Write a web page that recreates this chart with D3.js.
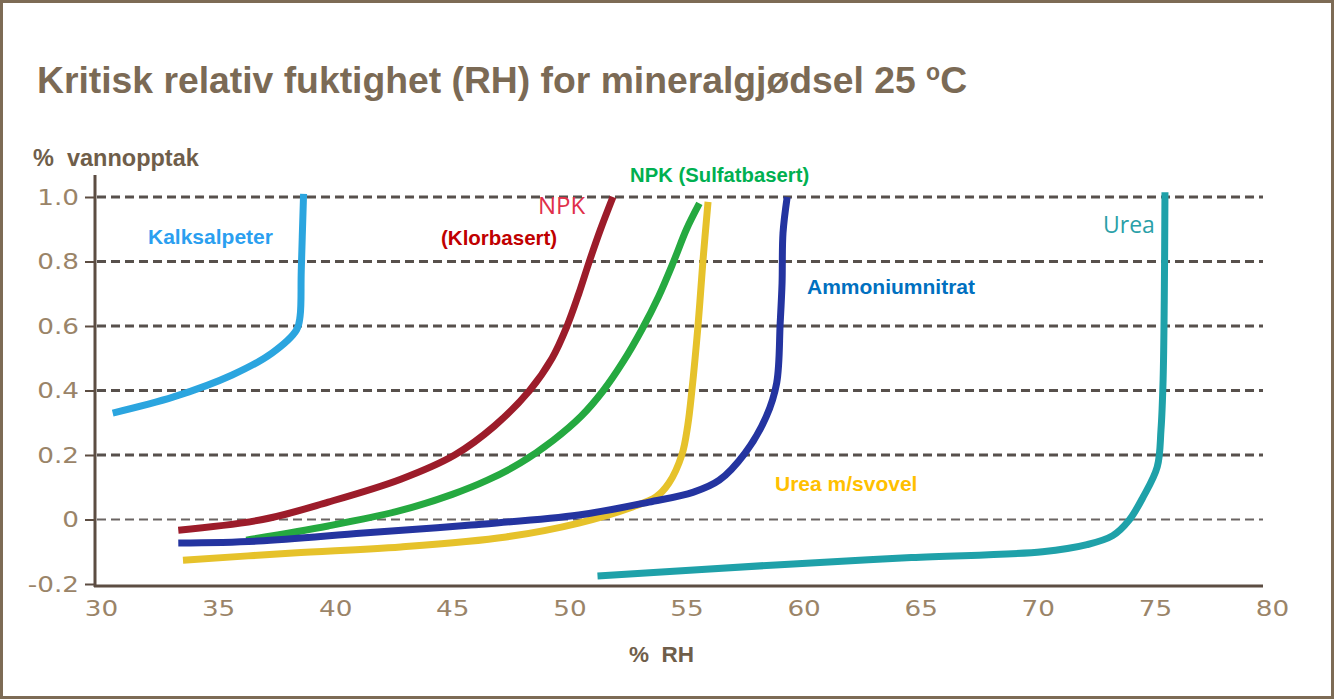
<!DOCTYPE html>
<meta charset="utf-8">
<body style="margin:0; background:#fff;">
<div id="chart"></div>
<script src="https://d3js.org/d3.v7.min.js"></script>
<script>
// tick values
const xTicks = [30, 35, 40, 45, 50, 55, 60, 65, 70, 75, 80];
const yTicks = [-0.2, 0, 0.2, 0.4, 0.6, 0.8, 1.0];
const yTickLabels = ["-0.2", "0", "0.2", "0.4", "0.6", "0.8", "1.0"];
const gridValues = [0, 0.2, 0.4, 0.6, 0.8, 1.0];

// curves: [% RH, % vannopptak]
const kalksalpeter = [[30.5, 0.33], [33.1, 0.38], [35.6, 0.448], [37.3, 0.516], [38.35, 0.588],
  [38.5, 0.63], [38.55, 0.77], [38.65, 1.01]];
const npkKlor = [[33.3, -0.033], [36.9, 0.0], [39.7, 0.054], [42.8, 0.125], [45.1, 0.2],
  [46.8, 0.29], [48.3, 0.4], [49.26, 0.5], [49.9, 0.6], [50.4, 0.7], [50.85, 0.8],
  [51.33, 0.9], [51.86, 1.0]];
const npkSulfat = [[36.2, -0.064], [39.7, -0.02], [42.8, 0.028], [45.0, 0.078], [46.5, 0.122],
  [47.9, 0.175], [49.3, 0.245], [50.5, 0.32], [51.45, 0.4], [52.3, 0.49], [53.1, 0.59],
  [53.8, 0.69], [54.45, 0.8], [55.0, 0.9], [55.55, 0.98]];
const ureaSvovel = [[33.5, -0.126], [38.2, -0.104], [42.8, -0.085], [47.3, -0.054], [50.4, -0.011],
  [52.7, 0.039], [53.7, 0.07], [54.25, 0.113], [54.8, 0.2], [55.05, 0.29], [55.23, 0.4],
  [55.49, 0.6], [55.7, 0.8], [55.92, 0.985]];
const ammoniumnitrat = [[33.3, -0.073], [36.7, -0.067], [41.2, -0.042], [45.8, -0.017], [50.4, 0.014],
  [53.4, 0.054], [55.3, 0.085], [56.4, 0.122], [57.5, 0.206], [58.4, 0.318], [58.85, 0.423],
  [59.0, 0.609], [59.08, 0.733], [59.12, 0.888], [59.3, 1.0]];
const urea = [[51.2, -0.175], [59.0, -0.14], [64.6, -0.118], [70.2, -0.1], [72.1, -0.078],
  [73.2, -0.05], [73.9, -0.002], [74.5, 0.07], [75.1, 0.163], [75.26, 0.278],
  [75.35, 0.433], [75.4, 0.68], [75.43, 1.015]];

const series = [
  {name: "Kalksalpeter", data: kalksalpeter, color: "#2ba5df"},
  {name: "NPK (Klorbasert)", data: npkKlor, color: "#9c1c2a"},
  {name: "NPK (Sulfatbasert)", data: npkSulfat, color: "#25a940"},
  {name: "Urea m/svovel", data: ureaSvovel, color: "#e6c22b"},
  {name: "Ammoniumnitrat", data: ammoniumnitrat, color: "#2434a0"},
  {name: "Urea", data: urea, color: "#1fa1a9"}
];

const width = 1334, height = 699;
const brown = "#7b6a55";
const stretch = 1.25; // tick digits in the picture are drawn wide

const svg = d3.select("#chart").append("svg")
  .attr("width", width)
  .attr("height", height)
  .style("display", "block");

svg.append("rect")
  .attr("x", 1.5).attr("y", 1.5)
  .attr("width", width - 3).attr("height", height - 3)
  .attr("fill", "#fff")
  .attr("stroke", "#7d6b55")
  .attr("stroke-width", 3);

const x = d3.scaleLinear().domain([30, 80]).range([101, 1272]);
const y = d3.scaleLinear().domain([-0.2, 1.0]).range([584, 197]);

// title
const title = svg.append("text")
  .attr("x", 37).attr("y", 93)
  .attr("fill", brown)
  .style("font-family", "Liberation Sans, Arial, sans-serif")
  .style("font-weight", "bold")
  .style("font-size", "37.3px")
  .text("Kritisk relativ fuktighet (RH) for mineralgjødsel 25 ");
title.append("tspan").attr("dy", -13).style("font-size", "23px").text("o");
title.append("tspan").attr("dy", 13).text("C");

// axis titles
svg.append("text")
  .attr("x", 33).attr("y", 166)
  .attr("fill", "#6f5e4a")
  .style("font-family", "Liberation Sans, Arial, sans-serif")
  .style("font-weight", "bold")
  .style("font-size", "23.5px")
  .style("white-space", "pre")
  .text("%  vannopptak");

svg.append("text")
  .attr("x", 629).attr("y", 662)
  .attr("fill", "#6f5e4a")
  .style("font-family", "Liberation Sans, Arial, sans-serif")
  .style("font-weight", "bold")
  .style("font-size", "22.5px")
  .style("white-space", "pre")
  .text("%  RH");

// grid
svg.append("g").selectAll("line")
  .data(gridValues)
  .join("line")
  .attr("x1", 97).attr("x2", 1263)
  .attr("y1", d => y(d)).attr("y2", d => y(d))
  .attr("stroke", d => d === 0 ? "#6a6462" : "#57504c")
  .attr("stroke-width", d => d === 0 ? 2 : 3)
  .attr("stroke-dasharray", "9 5");

// y axis
const yAxis = svg.append("g")
  .attr("transform", "translate(95,0)")
  .call(d3.axisLeft(y).tickValues(yTicks).tickSize(10).tickPadding(6)
    .tickFormat((d, i) => yTickLabels[i]));
yAxis.select(".domain").remove();
yAxis.selectAll(".tick line").attr("stroke", "#5c4d42").attr("stroke-width", 2);
yAxis.selectAll(".tick text")
  .attr("fill", "#9a8468")
  .style("font-family", "DejaVu Sans, sans-serif")
  .style("font-size", "21px")
  .attr("x", -16 / stretch)
  .attr("transform", `scale(${stretch},1)`)
  .attr("dy", "0.35em");
svg.append("line")
  .attr("x1", 95).attr("x2", 95).attr("y1", 175).attr("y2", 587)
  .attr("stroke", "#5c4d42").attr("stroke-width", 3);

// x axis
const xAxis = svg.append("g")
  .attr("transform", "translate(0,586)")
  .call(d3.axisBottom(x).tickValues(xTicks).tickSize(0).tickPadding(15));
xAxis.select(".domain").remove();
xAxis.selectAll(".tick text")
  .attr("fill", "#9a8468")
  .style("font-family", "DejaVu Sans, sans-serif")
  .style("font-size", "21px")
  .attr("transform", `scale(${stretch},1)`);
svg.append("line")
  .attr("x1", 94).attr("x2", 1263).attr("y1", 586).attr("y2", 586)
  .attr("stroke", "#5c4d42").attr("stroke-width", 3);

// curves
const line = d3.line()
  .x(d => x(d[0]))
  .y(d => y(d[1]))
  .curve(d3.curveCatmullRom.alpha(0.5));

svg.append("g").selectAll("path")
  .data(series)
  .join("path")
  .attr("d", d => line(d.data))
  .attr("fill", "none")
  .attr("stroke", d => d.color)
  .attr("stroke-width", 7)
  .attr("stroke-linecap", "butt")
  .attr("stroke-linejoin", "round");

// curve labels
const labels = [
  {text: "Kalksalpeter", x: 148, y: 244, color: "#2b9ff0", bold: true, size: 21},
  {text: "NPK", x: 538, y: 214, color: "#e0304a", bold: false, size: 24},
  {text: "(Klorbasert)", x: 441, y: 245, color: "#c00000", bold: true, size: 20.5},
  {text: "NPK (Sulfatbasert)", x: 630, y: 182, color: "#00b050", bold: true, size: 20.3},
  {text: "Ammoniumnitrat", x: 807, y: 294, color: "#0070c0", bold: true, size: 21},
  {text: "Urea", x: 1103, y: 233, color: "#2aa0a8", bold: false, size: 23},
  {text: "Urea m/svovel", x: 775, y: 491, color: "#ffc000", bold: true, size: 21}
];

svg.append("g").selectAll("text")
  .data(labels)
  .join("text")
  .attr("x", d => d.x).attr("y", d => d.y)
  .attr("fill", d => d.color)
  .style("font-family", d => d.bold ? "Liberation Sans, Arial, sans-serif" : "Open Sans, sans-serif")
  .style("font-weight", d => d.bold ? "bold" : "normal")
  .style("font-size", d => d.size + "px")
  .text(d => d.text);
</script>
</body>
